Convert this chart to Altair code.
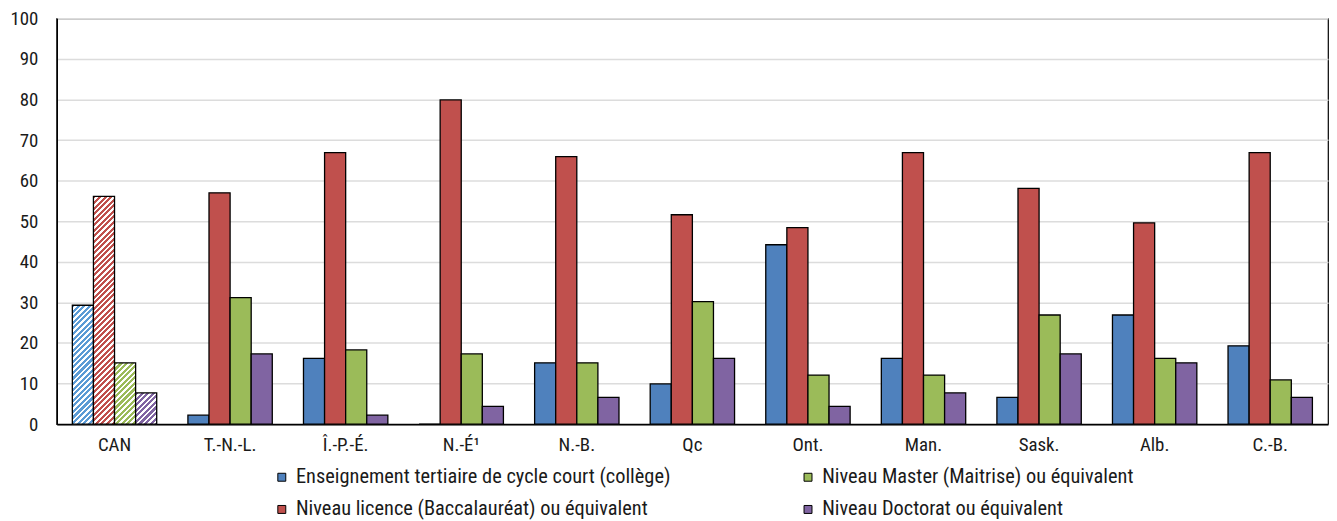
import altair as alt
import pandas as pd

regions = ["CAN", "T.-N.-L.", "Î.-P.-É.", "N.-É¹", "N.-B.", "Qc", "Ont.", "Man.", "Sask.", "Alb.", "C.-B."]
levels = [
    "Enseignement tertiaire de cycle court (collège)",
    "Niveau licence (Baccalauréat) ou équivalent",
    "Niveau Master (Maitrise) ou équivalent",
    "Niveau Doctorat ou équivalent",
]
college = [29.3, 2.2, 16.2, 0, 15.1, 9.9, 44.2, 16.2, 6.6, 26.9, 19.3]
licence = [56.1, 57.0, 66.9, 79.9, 65.9, 51.6, 48.4, 66.9, 58.1, 49.6, 66.9]
master = [15.1, 31.2, 18.3, 17.3, 15.1, 30.2, 12.1, 12.1, 26.9, 16.2, 10.9]
doctorat = [7.7, 17.3, 2.2, 4.4, 6.6, 16.2, 4.4, 7.7, 17.3, 15.1, 6.6]
y_ticks = [0, 10, 20, 30, 40, 50, 60, 70, 80, 90, 100]

solid_colors = ["#4F81BD", "#C0504D", "#9BBB59", "#8064A2"]
hatch_colors = ["#5B9BD5", "#C0504D", "#9BBB59", "#8064A2"]

series = [college, licence, master, doctorat]
rows = []
for lev, vals in zip(levels, series):
    for r, v in zip(regions, vals):
        rows.append({"region": r, "level": lev, "value": v})
df = pd.DataFrame(rows)

FONT = "Liberation Sans Narrow, Roboto Condensed, DejaVu Sans Condensed, sans-serif"
W, H = 1278, 408
P_IN, P_OUT = 0.27, 0.135

# legend order (row-wise, 2 columns): college, master, licence, doctorat
legend_order = [levels[0], levels[2], levels[1], levels[3]]
legend_colors = [solid_colors[0], solid_colors[2], solid_colors[1], solid_colors[3]]

x_enc = alt.X("region:N", sort=regions,
              scale=alt.Scale(domain=regions, paddingInner=P_IN, paddingOuter=P_OUT),
              axis=alt.Axis(title=None, labelAngle=0, ticks=False, labelPadding=11,
                            domain=True, domainColor="#000", domainWidth=1.5, grid=False))
xo_enc = alt.XOffset("level:N", scale=alt.Scale(domain=levels, paddingInner=0, paddingOuter=0))
y_enc = alt.Y("value:Q", scale=alt.Scale(domain=[0, 100], nice=False),
              axis=alt.Axis(title=None, values=y_ticks, ticks=False, labelPadding=19,
                            domain=True, domainColor="#000", domainWidth=1.5,
                            grid=True, gridColor="#dcdcdc", gridWidth=1.5))

base = alt.Chart(df)

main = base.transform_filter(alt.datum.region != "CAN").mark_bar(
    stroke="#000", strokeWidth=1.3
).encode(
    x=x_enc, xOffset=xo_enc, y=y_enc,
    color=alt.Color("level:N", scale=alt.Scale(domain=legend_order, range=legend_colors),
                    legend=alt.Legend(title=None, orient="none", legendX=216, legendY=451,
                                      columns=2, direction="horizontal",
                                      symbolType="square", symbolSize=64,
                                      symbolStrokeColor="#000", symbolStrokeWidth=1,
                                      symbolOpacity=1,
                                      labelFont=FONT, labelFontSize=20.5, labelColor="#1a1a1a",
                                      labelLimit=800, labelOffset=4, columnPadding=127,
                                      rowPadding=11.5, padding=0)),
)

# hatched CAN bars: diagonal stripes via a striped linear gradient
step = W / (len(regions) - P_IN + 2 * P_OUT)
bar_w = step * (1 - P_IN) / 4
pitch = 5.6
can_layers = []
for i, lev in enumerate(levels):
    v = series[i][0]
    h = v * H / 100.0
    span = bar_w + h
    k = span / (bar_w ** 2 + h ** 2)
    stops = []
    s = 0.0
    while s < span:
        a = s / span
        b = min((s + pitch * 0.55) / span, 1.0)
        c = min((s + pitch) / span, 1.0)
        stops += [alt.GradientStop(color=hatch_colors[i], offset=a),
                  alt.GradientStop(color=hatch_colors[i], offset=b),
                  alt.GradientStop(color="#ffffff", offset=b),
                  alt.GradientStop(color="#ffffff", offset=c)]
        s += pitch
    grad = alt.LinearGradient(gradient="linear", stops=stops,
                              x1=0, y1=0, x2=bar_w * k, y2=h * k)
    layer = base.transform_filter(
        (alt.datum.region == "CAN") & (alt.datum.level == lev)
    ).mark_bar(fill=grad, stroke="#000", strokeWidth=1.3).encode(
        x=x_enc, xOffset=xo_enc, y=y_enc
    )
    can_layers.append(layer)

chart = alt.layer(main, *can_layers).properties(
    width=W, height=H,
    autosize=alt.AutoSizeParams(type="none"),
    padding={"left": 49, "top": 9, "right": 1, "bottom": 96},
).configure_view(
    stroke="#000", strokeWidth=1.2
).configure_axis(
    labelFont=FONT, labelFontSize=19, labelColor="#1a1a1a"
)

chart.save("out.html", embed_options={"renderer": "svg", "actions": False})
